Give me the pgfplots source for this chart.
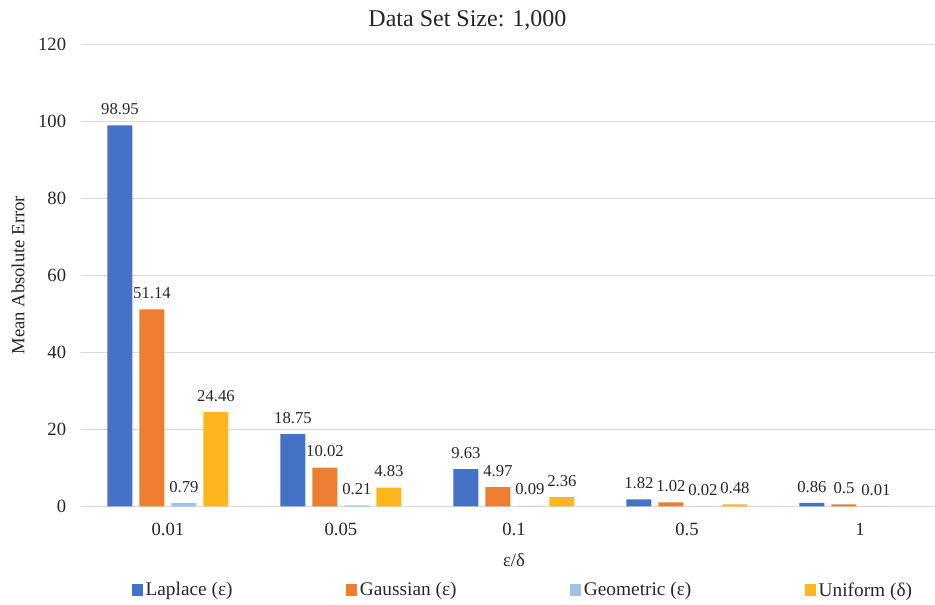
\documentclass[border=0pt]{standalone}
\usepackage{fontspec}
\setmainfont{Liberation Serif}
\usepackage{pgfplots}
\pgfplotsset{compat=1.18}
\usetikzlibrary{calc}
\definecolor{cLap}{HTML}{4472C4}
\definecolor{cGau}{HTML}{ED7D31}
\definecolor{cGeo}{HTML}{9DC3E6}
\definecolor{cUni}{HTML}{FDB71E}
\definecolor{gridgray}{HTML}{D9D9D9}
\definecolor{txt}{HTML}{262626}
\begin{document}
\begin{tikzpicture}
\begin{axis}[
  name=ax, at={(0,0)}, anchor=south west,
  scale only axis, width=648.75pt, height=346.5pt,
  xmin=-0.5, xmax=4.5, ymin=0, ymax=120,
  ytick={0,20,...,120}, xtick={0,1,2,3,4},
  xticklabels={0.01,0.05,0.1,0.5,1},
  /pgf/number format/assume math mode=true,
  ymajorgrids, grid style={draw=gridgray, line width=0.9pt},
  axis line style={draw=none}, major tick length=0pt,
  tick label style={font=\fontsize{14}{16}\selectfont, text=txt},
  yticklabel style={xshift=-8pt},
  xticklabel style={yshift=-9pt},
  xlabel={ε/δ}, ylabel={Mean Absolute Error},
  label style={font=\fontsize{14}{16}\selectfont, text=txt},
  xlabel style={at={(axis description cs:0.5,0)}, anchor=center, yshift=-40pt},
  ylabel style={at={(axis description cs:-0.0734,0.5)}, anchor=center},
  ybar=5.25pt, bar width=18.75pt,
  nodes near coords, point meta=explicit symbolic,
  every node near coord/.append style={font=\fontsize{12.5}{14}\selectfont, text=txt, yshift=4.5pt},
  legend image code/.code={\fill[#1] (0pt,-4pt) rectangle (8.5pt,4.5pt);},
  legend style={at={(axis description cs:0.053,0)}, anchor=west, yshift=-63pt,
    draw=none, fill=none, font=\fontsize{14.5}{16}\selectfont, text=txt,
    legend columns=4, /tikz/every even column/.append style={column sep=83pt}},
]
\addplot[fill=cLap, draw=none] coordinates {(0,98.95)[98.95] (1,18.75)[18.75] (2,9.63)[9.63] (3,1.82)[1.82] (4,0.86)[0.86]};
\addplot[fill=cGau, draw=none] coordinates {(0,51.14)[51.14] (1,10.02)[10.02] (2,4.97)[4.97] (3,1.02)[1.02] (4,0.5)[0.5]};
\addplot[fill=cGeo, draw=none] coordinates {(0,0.79)[0.79] (1,0.21)[0.21] (2,0.09)[0.09] (3,0.02)[0.02] (4,0.01)[0.01]};
\addplot[fill=cUni, draw=none] coordinates {(0,24.46)[24.46] (1,4.83)[4.83] (2,2.36)[2.36] (3,0.48)[0.48]};
\legend{Laplace (ε), Gaussian (ε), Geometric (ε), Uniform (δ)}
\end{axis}
\node[font=\fontsize{18}{20}\selectfont, text=txt] at ($(ax.north west)+(289.5pt,18pt)$) {Data Set Size: 1,000};
\pgfresetboundingbox
\path ($(ax.south west)+(-61.1pt,-73.7pt)$) rectangle ($(ax.north east)+(-8.6pt,33.2pt)$);
\end{tikzpicture}
\end{document}
